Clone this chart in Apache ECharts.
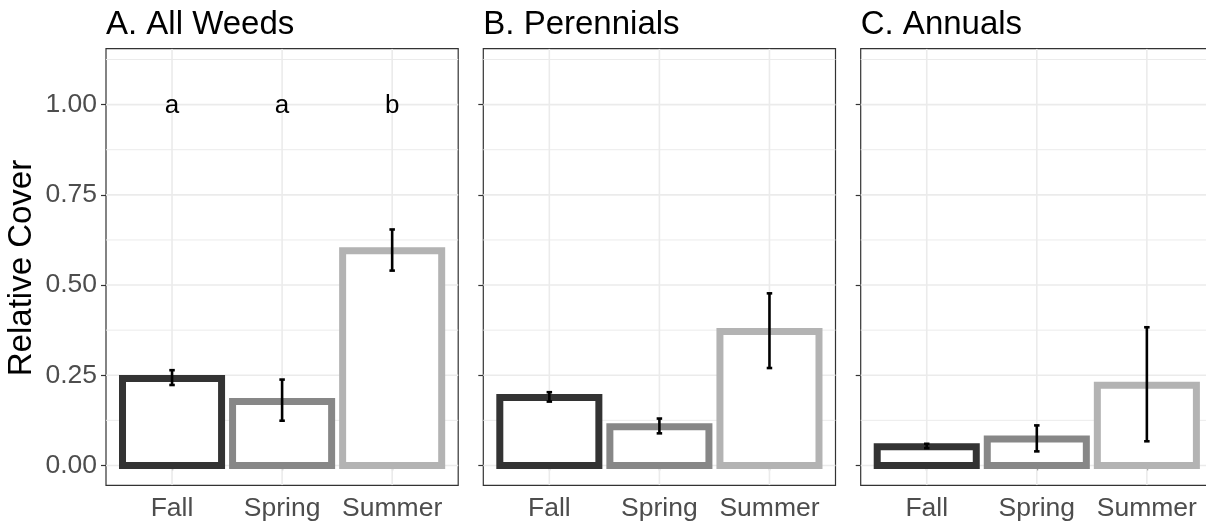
<!DOCTYPE html>
<html>
<head>
<meta charset="utf-8">
<script src="https://cdn.jsdelivr.net/npm/echarts@6/dist/echarts.min.js"></script>
<style>
  html, body { margin: 0; padding: 0; background: #fff; overflow: hidden; }
  /* the rightmost panel runs past the page edge */
  #chart { width: 1260px; height: 525px; }
</style>
</head>
<body>
<div id="chart"></div>
<script>
// Seasons on the x axis of every panel
const seasons = ['Fall', 'Spring', 'Summer'];
const panelTitles = ['A. All Weeds', 'B. Perennials', 'C. Annuals'];

// Mean relative cover per season, with standard-error bounds
const allWeedsMean = [0.241, 0.177, 0.595];
const allWeedsLow  = [0.223, 0.124, 0.540];
const allWeedsHigh = [0.264, 0.238, 0.654];

const perennialsMean = [0.188, 0.107, 0.371];
const perennialsLow  = [0.177, 0.089, 0.270];
const perennialsHigh = [0.203, 0.130, 0.477];

const annualsMean = [0.052, 0.073, 0.222];
const annualsLow  = [0.048, 0.039, 0.067];
const annualsHigh = [0.060, 0.111, 0.383];

// Significance letters (All Weeds panel only), placed at y = 1.00
const letters = ['a', 'a', 'b'];
const letterY = 1.0;

// Axis breaks
const yMajor = [0, 0.25, 0.5, 0.75, 1.0];
const yMinor = [0.125, 0.375, 0.625, 0.875, 1.125];
const yTickLabels = ['0.00', '0.25', '0.50', '0.75', '1.00'];

const panels = [
  { mean: allWeedsMean, low: allWeedsLow, high: allWeedsHigh },
  { mean: perennialsMean, low: perennialsLow, high: perennialsHigh },
  { mean: annualsMean, low: annualsLow, high: annualsHigh }
];

const seasonColors = ['#333333', '#878787', '#b3b3b3'];
const FONT = '"Liberation Sans", Arial, sans-serif';
const X_MIN = 0.4, X_MAX = 3.6;
const Y_MIN = -0.055, Y_MAX = 1.155;
const BAR_W = 0.9, CAP_W = 0.05;

const panelLeft = [106, 483.3, 860.7];
const panelWidth = 352.2;
const panelTop = 48.7;
const panelHeight = 436.6;

const grids = [], xAxes = [], yAxes = [], series = [], graphics = [];

panels.forEach((p, i) => {
  grids.push({
    left: panelLeft[i], top: panelTop, width: panelWidth, height: panelHeight,
    show: true, borderColor: '#333333', borderWidth: 1.2, backgroundColor: '#ffffff',
    containLabel: false
  });
  xAxes.push({
    gridIndex: i, type: 'value', min: X_MIN, max: X_MAX,
    axisLine: { show: false },
    axisTick: { show: true, length: 5, customValues: [1, 2, 3], lineStyle: { color: '#333333', width: 1.2 } },
    axisLabel: {
      customValues: [1, 2, 3], margin: 10,
      formatter: v => seasons[Math.round(v) - 1],
      color: '#4d4d4d', fontSize: 26.5, fontFamily: FONT
    },
    splitLine: { show: false }
  });
  yAxes.push({
    gridIndex: i, type: 'value', min: Y_MIN, max: Y_MAX,
    axisLine: { show: false },
    axisTick: { show: true, length: 5, customValues: yMajor, lineStyle: { color: '#333333', width: 1.2 } },
    axisLabel: {
      show: i === 0, customValues: yMajor, margin: 9,
      formatter: v => yTickLabels[yMajor.indexOf(v)] ?? v.toFixed(2),
      color: '#4d4d4d', fontSize: 26.5, fontFamily: FONT
    },
    splitLine: { show: false }
  });

  // Background grid lines: minor/major horizontal rules, vertical rules at each season
  const gridLines = []
    .concat(yMinor.map(v => ({ value: [v, 0], w: 1 })))
    .concat(yMajor.map(v => ({ value: [v, 0], w: 1.6 })))
    .concat([1, 2, 3].map(v => ({ value: [v, 1], w: 1.6 })));
  series.push({
    type: 'custom', xAxisIndex: i, yAxisIndex: i, z: 1, silent: true,
    clip: true,
    data: gridLines,
    renderItem(params, api) {
      const v = api.value(0), vertical = api.value(1) === 1;
      const a = vertical ? api.coord([v, Y_MIN]) : api.coord([X_MIN, v]);
      const b = vertical ? api.coord([v, Y_MAX]) : api.coord([X_MAX, v]);
      return {
        type: 'line',
        shape: { x1: a[0], y1: a[1], x2: b[0], y2: b[1] },
        style: { stroke: '#ebebeb', lineWidth: gridLines[params.dataIndex].w }
      };
    }
  });

  // Outlined bars
  series.push({
    type: 'custom', xAxisIndex: i, yAxisIndex: i, z: 3, silent: true,
    data: p.mean.map((m, k) => [k + 1, m]),
    renderItem(params, api) {
      const x = api.value(0), y = api.value(1);
      const tl = api.coord([x - BAR_W / 2, y]);
      const br = api.coord([x + BAR_W / 2, 0]);
      return {
        type: 'rect',
        shape: { x: tl[0], y: tl[1], width: br[0] - tl[0], height: br[1] - tl[1] },
        style: { fill: '#ffffff', stroke: seasonColors[params.dataIndex], lineWidth: 7 }
      };
    }
  });

  // Error bars
  series.push({
    type: 'custom', xAxisIndex: i, yAxisIndex: i, z: 4, silent: true,
    data: p.mean.map((m, k) => [k + 1, p.low[k], p.high[k]]),
    renderItem(params, api) {
      const x = api.value(0);
      const lo = api.coord([x, api.value(1)]);
      const hi = api.coord([x, api.value(2)]);
      const l = api.coord([x - CAP_W / 2, 0])[0];
      const r = api.coord([x + CAP_W / 2, 0])[0];
      const st = { stroke: '#000000', lineWidth: 2.6 };
      return {
        type: 'group',
        children: [
          { type: 'line', shape: { x1: lo[0], y1: lo[1], x2: hi[0], y2: hi[1] }, style: st },
          { type: 'line', shape: { x1: l, y1: hi[1], x2: r, y2: hi[1] }, style: st },
          { type: 'line', shape: { x1: l, y1: lo[1], x2: r, y2: lo[1] }, style: st }
        ]
      };
    }
  });

  graphics.push({
    type: 'text', left: panelLeft[i], top: 8,
    style: { text: panelTitles[i], font: '33px ' + FONT, fill: '#000000' }
  });
});

// Significance letters in the All Weeds panel
series.push({
  type: 'custom', xAxisIndex: 0, yAxisIndex: 0, z: 5, silent: true,
  data: letters.map((t, k) => [k + 1, letterY]),
  renderItem(params, api) {
    const pt = api.coord([api.value(0), api.value(1)]);
    return {
      type: 'text',
      x: pt[0], y: pt[1] + 1.5,
      style: {
        text: letters[params.dataIndex], font: '26px ' + FONT, fill: '#000000',
        align: 'center', verticalAlign: 'middle'
      }
    };
  }
});

// Shared y-axis title
graphics.push({
  type: 'text', x: 22, y: 268, rotation: Math.PI / 2,
  style: { text: 'Relative Cover', font: '33px ' + FONT, fill: '#000000', align: 'center', verticalAlign: 'middle' }
});

const chart = echarts.init(document.getElementById('chart'), null, { renderer: 'canvas' });
chart.setOption({
  animation: false,
  backgroundColor: '#ffffff',
  grid: grids,
  xAxis: xAxes,
  yAxis: yAxes,
  series: series,
  graphic: graphics
});
</script>
</body>
</html>
